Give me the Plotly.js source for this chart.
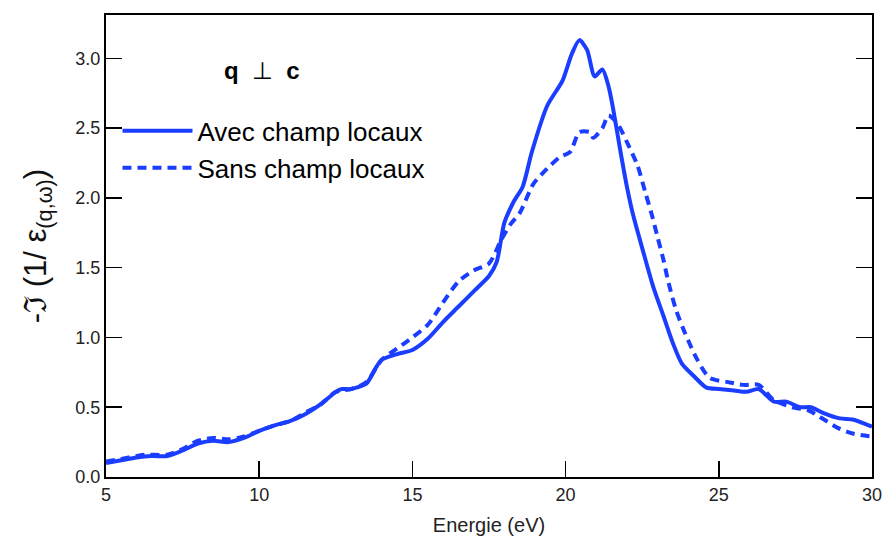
<!DOCTYPE html>
<html>
<head>
<meta charset="utf-8">
<script src="https://cdn.plot.ly/plotly-3.0.1.min.js"></script>
<style>html,body{margin:0;padding:0;background:#fff}#chart{width:887px;height:541px}</style>
</head>
<body>
<div id="chart"></div>
<script>
// Energy (eV) and -Im(1/eps) values
const avecE = [5.0,5.5,6.0,6.5,7.0,7.5,8.0,8.5,9.0,9.5,10.0,10.5,11.0,11.5,12.0,12.5,12.7,13.0,13.5,13.8,14.0,14.5,15.0,15.5,16.0,16.5,17.0,17.5,17.75,18.0,18.3,18.6,18.9,19.4,19.9,20.2,20.45,20.7,20.95,21.2,21.4,21.55,21.8,22.0,22.2,22.5,22.85,23.2,23.5,23.8,24.2,24.6,25.0,25.5,25.9,26.3,26.8,27.2,27.65,28.0,28.4,28.95,29.4,30.0];
const avecV = [0.10,0.12,0.14,0.15,0.15,0.19,0.24,0.26,0.25,0.28,0.33,0.37,0.40,0.45,0.52,0.61,0.63,0.63,0.67,0.78,0.84,0.88,0.91,0.99,1.11,1.22,1.33,1.44,1.54,1.82,1.97,2.08,2.33,2.66,2.84,3.03,3.13,3.06,2.87,2.92,2.80,2.64,2.32,2.08,1.88,1.64,1.37,1.15,0.96,0.81,0.72,0.64,0.63,0.62,0.61,0.63,0.54,0.54,0.50,0.50,0.46,0.42,0.41,0.36];
const sansE = [5.0,5.5,6.0,6.3,7.0,7.5,8.0,8.5,9.0,9.3,9.5,10.0,10.5,11.0,11.5,12.0,12.5,13.0,13.5,14.0,14.5,15.0,15.5,16.0,16.5,17.0,17.5,17.9,18.2,18.5,18.95,19.4,19.8,20.15,20.45,20.8,20.9,21.2,21.4,21.7,22.0,22.35,22.6,22.8,23.0,23.2,23.35,23.6,23.9,24.3,24.7,25.3,25.8,26.3,26.8,27.4,27.9,28.3,28.9,29.4,30.0];
const sansV = [0.11,0.13,0.15,0.16,0.16,0.20,0.26,0.28,0.27,0.28,0.29,0.33,0.37,0.40,0.46,0.52,0.61,0.63,0.68,0.84,0.92,1.00,1.09,1.25,1.40,1.48,1.53,1.70,1.81,1.89,2.10,2.21,2.29,2.33,2.47,2.47,2.43,2.50,2.59,2.53,2.40,2.23,2.04,1.89,1.72,1.55,1.40,1.20,1.03,0.84,0.71,0.68,0.66,0.66,0.55,0.50,0.48,0.43,0.35,0.31,0.29];
const seriesNames = ['Avec champ locaux', 'Sans champ locaux'];
const xTicks = [5,10,15,20,25,30];
const yTicks = [0,0.5,1.0,1.5,2.0,2.5,3.0];

const blue = '#1a3dff';
const font = 'Liberation Sans, Arial, Helvetica, sans-serif';

const traces = [
  {x: avecE, y: avecV, name: seriesNames[0], mode: 'lines',
   line: {color: blue, width: 4, shape: 'spline', smoothing: 0.7}},
  {x: sansE, y: sansV, name: seriesNames[1], mode: 'lines',
   line: {color: blue, width: 4, dash: '9px,6px', shape: 'spline', smoothing: 0.7}}
];

const layout = {
  width: 887, height: 541,
  margin: {l: 106, r: 15, t: 15, b: 64},
  paper_bgcolor: '#fff', plot_bgcolor: '#fff',
  font: {family: font, color: '#111'},
  showlegend: true,
  legend: {x: 0.015, y: 0.709, xanchor: 'left', yanchor: 'middle',
           font: {family: font, size: 26, color: '#000'}, itemwidth: 70,
           bgcolor: 'rgba(0,0,0,0)', borderwidth: 0},
  xaxis: {range: [5, 30], tickvals: xTicks, ticks: 'inside', ticklen: 16, tickwidth: 1.5,
          tickcolor: '#000', showline: true, linecolor: '#000', linewidth: 2, mirror: true,
          showgrid: false, zeroline: false, tickfont: {size: 18, color: '#222'},
          title: {text: 'Energie (eV)', font: {size: 20, color: '#222'}, standoff: 14}},
  yaxis: {range: [0, 3.31], tickvals: yTicks, tickformat: '.1f', ticks: 'inside', ticklen: 16,
          tickwidth: 1.5, tickcolor: '#000', showline: true, linecolor: '#000', linewidth: 2,
          mirror: 'ticks', showgrid: false, zeroline: false, tickfont: {size: 18, color: '#222'},
          title: {text: '-ℑ (1/ ε<sub>(q,ω)</sub>)', font: {size: 31, color: '#111'}, standoff: 20}},
  annotations: [
    {xref: 'paper', yref: 'paper', x: 0.204, y: 0.879, xanchor: 'center', yanchor: 'middle',
     showarrow: false,
     text: '<b>q</b>\u00a0\u00a0⊥\u00a0\u00a0<b>c</b>', font: {size: 24, color: '#000', family: font}}
  ]
};

Plotly.newPlot('chart', traces, layout, {displayModeBar: false, staticPlot: true});
</script>
</body>
</html>
